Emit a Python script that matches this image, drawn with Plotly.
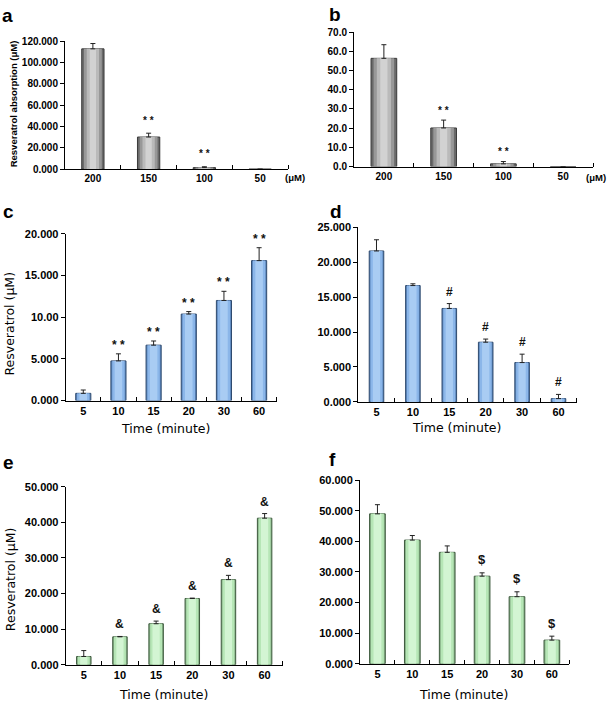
import plotly.graph_objects as go

W, H = 609, 710

# ---------------- data ----------------
conc_labels = ["200", "150", "100", "50"]
time_labels = ["5", "10", "15", "20", "30", "60"]

a_values = [113.0, 30.2, 1.5, 0.0]
a_errors = [5.0, 3.6, 0.8, 0.0]
a_marks = ["", "* *", "* *", ""]
a_tickvals = [0, 20, 40, 60, 80, 100, 120]
a_ticktext = ["0.000", "20.000", "40.000", "60.000", "80.000", "100.000", "120.000"]

b_values = [56.4, 20.1, 1.4, 0.0]
b_errors = [7.1, 4.1, 1.2, 0.0]
b_marks = ["", "* *", "* *", ""]
b_tickvals = [0, 10, 20, 30, 40, 50, 60, 70]
b_ticktext = ["0.0", "10.0", "20.0", "30.0", "40.0", "50.0", "60.0", "70.0"]

c_values = [0.86, 4.75, 6.64, 10.37, 12.0, 16.78]
c_errors = [0.4, 0.85, 0.5, 0.3, 1.1, 1.55]
c_marks = ["", "* *", "* *", "* *", "* *", "* *"]
c_tickvals = [0, 5, 10, 15, 20]
c_ticktext = ["0.000", "5.000", "10.00", "15.000", "20.000"]

d_values = [21.6, 16.65, 13.37, 8.54, 5.63, 0.47]
d_errors = [1.6, 0.25, 0.7, 0.45, 1.2, 0.6]
d_marks = ["", "", "#", "#", "#", "#"]
d_tickvals = [0, 5, 10, 15, 20, 25]
d_ticktext = ["0.000", "5.000", "10.000", "15.000", "20.000", "25.000"]

e_values = [2.3, 7.83, 11.5, 18.6, 23.9, 41.16]
e_errors = [1.66, 0.1, 0.75, 0.1, 1.2, 1.3]
e_marks = ["", "&", "&", "&", "&", "&"]
e_tickvals = [0, 10, 20, 30, 40, 50]
e_ticktext = ["0.000", "10.000", "20.000", "30.000", "40.000", "50.000"]

f_values = [48.98, 40.4, 36.4, 28.6, 21.9, 7.7]
f_errors = [3.0, 1.5, 2.1, 1.1, 1.6, 1.3]
f_marks = ["", "", "", "$", "$", "$"]
f_tickvals = [0, 10, 20, 30, 40, 50, 60]
f_ticktext = ["0.000", "10.000", "20.000", "30.000", "40.000", "50.000", "60.000"]

# ---------------- styles ----------------
GRAY = dict(line="#3a3a3a", layers=[(1.0, "#6a6a6a"), (0.8, "#989898"), (0.55, "#bababa"), (0.28, "#d2d2d2")])
BLUE = dict(line="#2f4a6e", layers=[(1.0, "#5a85bb"), (0.82, "#8bb6e9"), (0.5, "#a9ccf3")])
GREEN = dict(line="#3e5a3e", layers=[(1.0, "#86b086"), (0.82, "#b6e6b6"), (0.5, "#d3f5d3")])

BOLD = "Liberation Sans"
TITLE_FONT = "DejaVu Sans"


def px_dom_x(x0, x1):
    return [x0 / W, x1 / W]


def px_dom_y(ytop, ybot):
    return [1 - ybot / H, 1 - ytop / H]


panels = [
    dict(key="a", labels=conc_labels, values=a_values, errors=a_errors, marks=a_marks,
         tv=a_tickvals, tt=a_ticktext, ymax=120, style=GRAY, barw=0.4,
         dx=(65, 288), dy=(36, 166), tickfs=10, markfs=10, markshift=13),
    dict(key="b", labels=conc_labels, values=b_values, errors=b_errors, marks=b_marks,
         tv=b_tickvals, tt=b_ticktext, ymax=70, style=GRAY, barw=0.43,
         dx=(354, 593), dy=(26.7, 163.3), tickfs=10, markfs=10, markshift=10),
    dict(key="c", labels=time_labels, values=c_values, errors=c_errors, marks=c_marks,
         tv=c_tickvals, tt=c_ticktext, ymax=20, style=BLUE, barw=0.43,
         dx=(65.7, 276.7), dy=(231.7, 401.3), tickfs=11, markfs=12, markshift=9),
    dict(key="d", labels=time_labels, values=d_values, errors=d_errors, marks=d_marks,
         tv=d_tickvals, tt=d_ticktext, ymax=25, style=BLUE, barw=0.4,
         dx=(358.3, 576.7), dy=(225, 402.7), tickfs=11, markfs=12, markshift=12),
    dict(key="e", labels=time_labels, values=e_values, errors=e_errors, marks=e_marks,
         tv=e_tickvals, tt=e_ticktext, ymax=50, style=GREEN, barw=0.4,
         dx=(65.7, 282.7), dy=(489, 670), tickfs=11, markfs=12, markshift=12),
    dict(key="f", labels=time_labels, values=f_values, errors=f_errors, marks=f_marks,
         tv=f_tickvals, tt=f_ticktext, ymax=60, style=GREEN, barw=0.45,
         dx=(360, 569.3), dy=(482.3, 669), tickfs=11, markfs=13, markshift=13),
]

fig = go.Figure()
layout = dict(width=W, height=H, margin=dict(l=0, r=0, t=0, b=0),
              paper_bgcolor="white", plot_bgcolor="white", showlegend=False,
              barmode="overlay")
annotations = []

for i, p in enumerate(panels):
    n = len(p["labels"])
    xs = list(range(n))
    xa = "x" if i == 0 else f"x{i+1}"
    ya = "y" if i == 0 else f"y{i+1}"
    xname = "xaxis" if i == 0 else f"xaxis{i+1}"
    yname = "yaxis" if i == 0 else f"yaxis{i+1}"
    layers = p["style"]["layers"]
    for li, (frac, col) in enumerate(layers):
        last = li == len(layers) - 1
        fig.add_trace(go.Bar(
            x=xs, y=p["values"], xaxis=xa, yaxis=ya,
            width=p["barw"] * frac,
            marker=dict(color=col,
                        line=dict(color=p["style"]["line"], width=1 if li == 0 else 0)),
            error_y=dict(type="data", array=p["errors"], arrayminus=[0] * n,
                         symmetric=False, visible=last, color="#222222",
                         thickness=1, width=2.5),
            hoverinfo="skip",
        ))
    layout[xname] = dict(
        domain=px_dom_x(*p["dx"]), anchor=ya, range=[-0.5, n - 0.5],
        tickmode="array", tickvals=xs, ticktext=p["labels"], ticks="",
        showline=True, linecolor="black", linewidth=1, showgrid=False, zeroline=False,
        tickfont=dict(family=BOLD, size=p["tickfs"], color="black", weight="bold"),
        minor=dict(tickmode="array", tickvals=[k + 0.5 for k in range(n)],
                   ticks="inside", ticklen=4, tickcolor="black", tickwidth=1),
        fixedrange=True,
    )
    layout[yname] = dict(
        domain=px_dom_y(*p["dy"]), anchor=xa, range=[0, p["ymax"]],
        tickmode="array", tickvals=p["tv"], ticktext=p["tt"], ticks="outside",
        ticklen=4, tickcolor="black", showline=True, linecolor="black", linewidth=1,
        showgrid=False, zeroline=False,
        tickfont=dict(family=BOLD, size=p["tickfs"], color="black", weight="bold"),
        fixedrange=True,
    )
    for k, m in enumerate(p["marks"]):
        if m:
            annotations.append(dict(
                x=k, y=p["values"][k] + p["errors"][k], xref=xa, yref=ya,
                text=m, showarrow=False, yanchor="middle", yshift=p["markshift"],
                font=dict(family=BOLD, size=p["markfs"], color="#111111", weight="bold"),
            ))

# panel letters
letters = [("a", 7, 10), ("b", 335, 9), ("c", 8, 209), ("d", 336, 209), ("e", 8, 464), ("f", 332, 461)]
for t, x, y in letters:
    annotations.append(dict(x=x / W, y=1 - y / H, xref="paper", yref="paper", text=t,
                            showarrow=False, xanchor="center", yanchor="middle",
                            font=dict(family=BOLD, size=19, color="black", weight="bold")))

# unit labels on concentration axes
for x, y in [(295, 174), (596, 174)]:
    annotations.append(dict(x=x / W, y=1 - y / H, xref="paper", yref="paper", text="(μM)",
                            showarrow=False, xanchor="center", yanchor="middle",
                            font=dict(family=BOLD, size=9.5, color="black", weight="bold")))

# axis titles
annotations.append(dict(x=13 / W, y=1 - 100 / H, xref="paper", yref="paper",
                        text="Resveratrol absorption (μM)", textangle=-90, showarrow=False,
                        xanchor="center", yanchor="middle",
                        font=dict(family=BOLD, size=9.5, color="black", weight="bold")))
for y in (323, 583):
    annotations.append(dict(x=10 / W, y=1 - y / H, xref="paper", yref="paper",
                            text="Resveratrol (μM)", textangle=-90, showarrow=False,
                            xanchor="center", yanchor="middle",
                            font=dict(family=TITLE_FONT, size=12.5, color="black")))
for x, y in [(165, 430), (456, 429), (163, 700), (463, 700)]:
    annotations.append(dict(x=x / W, y=1 - y / H, xref="paper", yref="paper",
                            text="Time (minute)", showarrow=False,
                            xanchor="center", yanchor="middle",
                            font=dict(family=TITLE_FONT, size=12.5, color="black")))

layout["annotations"] = annotations
fig.update_layout(**layout)
fig.write_html("out.html", config={"displayModeBar": False},
               post_script="document.body.style.margin='0px';document.body.style.overflow='hidden';")
